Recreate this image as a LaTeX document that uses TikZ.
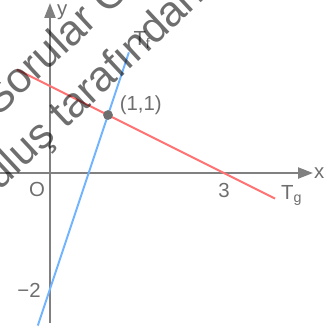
\documentclass[tikz,border=0pt]{standalone}
\usepackage{fontspec}
\setmainfont{Liberation Sans}
\usepackage{xcolor}
\definecolor{AxisGray}{HTML}{808080}
\definecolor{LabelGray}{HTML}{6E6E6E}
\definecolor{TangRed}{HTML}{FF7373}
\definecolor{TangBlue}{HTML}{73B4FF}
\usepackage{tikz}
\usetikzlibrary{arrows.meta,positioning}

\begin{document}
\begin{tikzpicture}[>={Triangle[length=7.3pt,width=5.4pt]},axis/.style={draw=AxisGray,line width=1pt},lbl/.style={text=LabelGray,font=\fontsize{10}{12}\selectfont,inner sep=0pt},tang/.style={line width=1pt},ptdot/.style={circle,fill=LabelGray,inner sep=0pt,minimum size=4.8pt},wmark/.style={text=black,opacity=0.57,font=\fontsize{21}{25}\selectfont,rotate=43,anchor=base west,inner sep=0pt}]
\useasboundingbox (-0.862,-2.672) rectangle (4.724,2.983);
\coordinate (xs) at (-0.862,0);\coordinate (xe) at (4.534,0);
\coordinate (ys) at (0,-2.586);\coordinate (ye) at (0,2.931);
\coordinate (gs) at (-0.57,1.785);\coordinate (ge) at (3.88,-0.44);
\coordinate (fs) at (-0.21,-2.63);\coordinate (fe) at (1.36,2.08);
\draw[axis,->] (xs)--(xe);\draw[axis,->] (ys)--(ye);
\draw[tang,TangRed] (gs)--(ge);\draw[tang,TangBlue] (fs)--(fe);
\node[ptdot] (p) at (1,1) {};
\node[lbl] (o) at (-0.224,-0.276) {O};
\node[lbl] (xl) at (4.64,0) {x};
\node[lbl] (yl) at (0.21,2.78) {y};
\node[lbl] (three) at (3,-0.293) {3};
\node[lbl] (mtwo) at (-0.362,-2.03) {−2};
\node[lbl,right=3pt of p,yshift=4.6pt] (pl) {(1,1)};
\node[lbl] (tf) at (1.59,2.29) {T\textsubscript{f}};
\node[lbl] (tg) at (4.17,-0.38) {T\textsubscript{g}};
\begin{scope}
\clip (-0.862,-2.672) rectangle (4.724,2.983);
\node[wmark] (w1) at (-0.90,0.956) {Sorular ÖSYM};
\node[wmark] (w2) at (-1.63,-1.02) {kuruluş tarafından};
\end{scope}
\end{tikzpicture}
\end{document}
